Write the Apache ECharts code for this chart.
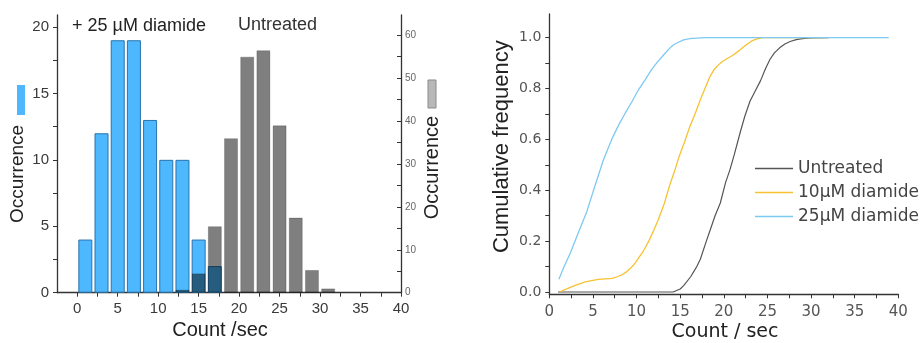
<!DOCTYPE html>
<html><head><meta charset="utf-8">
<script src="https://cdn.jsdelivr.net/npm/echarts@6/dist/echarts.min.js"></script>
<style>html,body{margin:0;padding:0;background:#fff}#c{width:920px;height:343px}</style>
</head><body><div id="c"></div>
<script>
// ---- Histogram data (bin centres, counts/sec) ----
const binCenters = [1, 3, 5, 7, 9, 11, 13, 15, 17, 19, 21, 23, 25, 27, 29, 31];
const diamide25Counts = [4, 12, 19, 19, 13, 10, 10, 4, 2, 0, 0, 0, 0, 0, 0, 0];      // left axis
const untreatedCounts = [0, 0, 0, 0, 0, 0, 0.7, 4.5, 15.5, 36, 55, 56.5, 39, 17.5, 5.3, 1]; // right axis
const histXTicks = [0, 5, 10, 15, 20, 25, 30, 35, 40];
const histLeftTicks = [0, 5, 10, 15, 20];
const histRightTicks = [0, 10, 20, 30, 40, 50, 60];

// ---- Cumulative frequency data ----
const untreatedX = [1, 5, 10, 14.2, 15.0, 15.4, 16.2, 16.9, 17.3, 18.0, 18.4, 19.0, 19.6, 20.2, 20.7, 21.2, 21.9, 22.4, 23.0, 23.6, 24.2, 24.8, 25.3, 25.8, 26.4, 27.0, 27.6, 28.3, 29.0, 30.0, 32.0];
const untreatedY = [0, 0, 0, 0, 0.012, 0.025, 0.06, 0.1, 0.128, 0.2, 0.24, 0.3, 0.35, 0.43, 0.48, 0.54, 0.63, 0.69, 0.75, 0.79, 0.83, 0.88, 0.915, 0.94, 0.96, 0.975, 0.985, 0.992, 0.996, 0.999, 1.0];
const diamide10X = [1.2, 2.0, 2.6, 3.3, 4.1, 5.0, 5.6, 6.4, 7.2, 7.8, 8.3, 8.8, 9.3, 9.8, 10.2, 10.8, 11.4, 12.0, 12.5, 13.2, 13.8, 14.4, 14.9, 15.5, 16.1, 16.7, 17.3, 17.9, 18.4, 18.9, 19.3, 19.8, 20.3, 21.0, 21.8, 22.5, 23.2, 23.8, 24.5, 32.0];
const diamide10Y = [0.001, 0.012, 0.021, 0.03, 0.04, 0.046, 0.05, 0.052, 0.054, 0.06, 0.067, 0.078, 0.093, 0.112, 0.132, 0.162, 0.2, 0.245, 0.285, 0.35, 0.42, 0.48, 0.535, 0.59, 0.65, 0.70, 0.755, 0.805, 0.846, 0.875, 0.89, 0.905, 0.916, 0.93, 0.95, 0.97, 0.987, 0.995, 1.0, 1.0];
const diamide25X = [1.1, 1.7, 2.4, 3.3, 4.3, 5.2, 6.2, 6.8, 7.3, 8.0, 8.7, 9.5, 10.2, 11.0, 11.7, 12.4, 13.1, 13.7, 14.2, 14.8, 15.4, 16.1, 16.9, 18.0, 25.0, 32.0, 38.9];
const diamide25Y = [0.05, 0.1, 0.152, 0.231, 0.316, 0.414, 0.519, 0.57, 0.611, 0.66, 0.703, 0.75, 0.794, 0.835, 0.873, 0.905, 0.932, 0.955, 0.971, 0.982, 0.991, 0.996, 0.998, 1.0, 1.0, 1.0, 1.0];
const cdfXTicks = [0, 5, 10, 15, 20, 25, 30, 35, 40];
const cdfYTicks = [0, 0.2, 0.4, 0.6, 0.8, 1.0];

function pairs(xs, ys) { return xs.map((x, i) => [x, ys[i]]); }
function range(a, b, s) { const r = []; for (let v = a; v <= b + 1e-9; v += s) r.push(+v.toFixed(4)); return r; }

const chart = echarts.init(document.getElementById('c'), null, { renderer: 'canvas' });
const axisLine = { show: true, onZero: false, lineStyle: { color: '#333', width: 1.3 } };
const lblL = { color: '#3a3a3a', fontSize: 15, fontFamily: 'Liberation Sans, Arial' };
const lblR = { color: '#555', fontSize: 14, fontFamily: 'DejaVu Sans' };

chart.setOption({
  animation: false,
  backgroundColor: '#fff',
  grid: [
    { left: 57, right: 519, top: 15, bottom: 50.3 },
    { left: 549.3, right: 21.7, top: 14, bottom: 48.7 }
  ],
  xAxis: [
    { type: 'value', gridIndex: 0, min: -2.5, max: 40, splitLine: { show: false }, axisLine: axisLine,
      axisTick: { show: true, length: 4, lineStyle: { color: '#333' }, customValues: range(0, 40, 2.5) },
      axisLabel: Object.assign({ margin: 9, customValues: histXTicks }, lblL) },
    { type: 'value', gridIndex: 1, min: 0, max: 40, splitLine: { show: false }, axisLine: axisLine,
      axisTick: { show: true, length: 4, lineStyle: { color: '#333' }, customValues: range(0, 40, 2.5) },
      axisLabel: { margin: 10, customValues: cdfXTicks, color: '#555', fontFamily: 'DejaVu Sans', fontSize: 15 } }
  ],
  yAxis: [
    { type: 'value', gridIndex: 0, min: 0, max: 20.9, position: 'left', splitLine: { show: false }, axisLine: axisLine,
      axisTick: { show: true, length: 4, lineStyle: { color: '#333' }, customValues: range(0, 20, 2.5) },
      axisLabel: Object.assign({ margin: 8, customValues: histLeftTicks }, lblL) },
    { type: 'value', gridIndex: 0, min: 0, max: 64.7, position: 'right', splitLine: { show: false }, axisLine: axisLine,
      axisTick: { show: true, inside: true, length: 4, lineStyle: { color: '#333' }, customValues: range(0, 60, 5) },
      axisLabel: { margin: 4, customValues: histRightTicks, color: '#666', fontSize: 10, fontFamily: 'Liberation Sans, Arial' } },
    { type: 'value', gridIndex: 1, min: -0.009, max: 1.093, splitLine: { show: false }, axisLine: axisLine,
      axisTick: { show: true, length: 4, lineStyle: { color: '#333' }, customValues: range(0, 1.0, 0.1) },
      axisLabel: Object.assign({ margin: 8, customValues: cdfYTicks, formatter: v => v.toFixed(1) }, lblR) }
  ],
  legend: {
    orient: 'vertical', left: 755, top: 160, padding: 0, itemWidth: 38, itemHeight: 1.4, itemGap: 7,
    icon: 'rect',
    textStyle: { color: '#444', fontSize: 17, fontFamily: 'DejaVu Sans', lineHeight: 17 },
    data: ['Untreated', '10μM diamide', '25μM diamide']
  },
  series: [
    { name: 'hist25', type: 'bar', xAxisIndex: 0, yAxisIndex: 0, barWidth: 14, barGap: '-100%',
      data: pairs(binCenters, diamide25Counts).filter(p => p[1] > 0),
      itemStyle: { color: '#4db8fd', borderColor: '#2873ad', borderWidth: 1 } },
    { name: 'histUntreated', type: 'bar', xAxisIndex: 0, yAxisIndex: 1, barWidth: 14, barGap: '-100%',
      data: pairs(binCenters, untreatedCounts).filter(p => p[1] > 0),
      itemStyle: { color: 'rgba(0,0,0,0.5)', borderColor: 'rgba(0,0,0,0.2)', borderWidth: 1 } },
    { name: 'Untreated', type: 'line', xAxisIndex: 1, yAxisIndex: 2, symbol: 'none', color: '#555',
      lineStyle: { color: '#555', width: 1.2 }, data: pairs(untreatedX, untreatedY) },
    { name: '10μM diamide', type: 'line', xAxisIndex: 1, yAxisIndex: 2, symbol: 'none', color: '#f7c231',
      lineStyle: { color: '#f7c231', width: 1.3 }, data: pairs(diamide10X, diamide10Y) },
    { name: '25μM diamide', type: 'line', xAxisIndex: 1, yAxisIndex: 2, symbol: 'none', color: '#7dc9f2',
      lineStyle: { color: '#7dc9f2', width: 1.3 }, data: pairs(diamide25X, diamide25Y) }
  ],
  graphic: [
    { type: 'text', left: 72, top: 17, style: { text: '+ 25 µM diamide', fontSize: 18, fontFamily: 'Liberation Sans, Arial', fill: '#222' } },
    { type: 'text', left: 238, top: 16, style: { text: 'Untreated', fontSize: 18, fontFamily: 'Liberation Sans, Arial', fill: '#333' } },
    { type: 'rect', shape: { x: 17, y: 85, width: 8, height: 30 }, style: { fill: '#4db8fd' } },
    { type: 'text', x: 18, y: 174, rotation: Math.PI / 2,
      style: { text: 'Occurrence', fontSize: 19, fontFamily: 'Liberation Sans, Arial', fill: '#222', align: 'center', verticalAlign: 'middle' } },
    { type: 'rect', shape: { x: 428, y: 80, width: 8, height: 28 }, style: { fill: '#b8b8b8', stroke: '#8a8a8a', lineWidth: 1 } },
    { type: 'text', x: 432, y: 167.5, rotation: Math.PI / 2,
      style: { text: 'Occurrence', fontSize: 20, fontFamily: 'Liberation Sans, Arial', fill: '#222', align: 'center', verticalAlign: 'middle' } },
    { type: 'text', x: 220, y: 330, style: { text: 'Count /sec', fontSize: 20, fontFamily: 'Liberation Sans, Arial', fill: '#222', align: 'center', verticalAlign: 'middle' } },
    { type: 'text', x: 502, y: 146.7, rotation: Math.PI / 2,
      style: { text: 'Cumulative frequency', fontSize: 22, fontFamily: 'Liberation Sans, Arial', fill: '#222', align: 'center', verticalAlign: 'middle' } },
    { type: 'text', x: 725, y: 331.7, style: { text: 'Count / sec', fontSize: 19, fontFamily: 'DejaVu Sans', fill: '#222', align: 'center', verticalAlign: 'middle' } }
  ]
});
</script></body></html>
